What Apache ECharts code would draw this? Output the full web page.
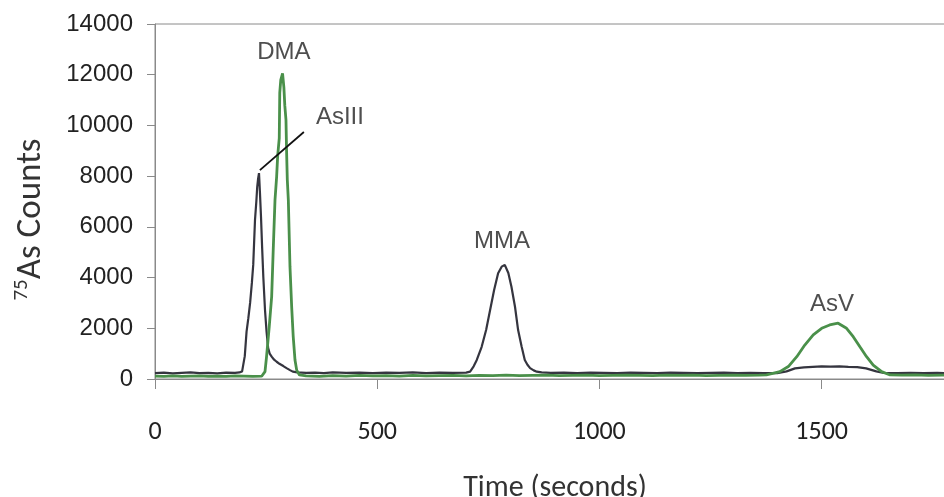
<!DOCTYPE html>
<html>
<head>
<meta charset="utf-8">
<script src="https://cdn.jsdelivr.net/npm/echarts@6/dist/echarts.min.js"></script>
<style>
html,body{margin:0;padding:0;background:#fff}
#main{width:944px;height:497px}
</style>
</head>
<body>
<div id="main"></div>
<script>
// black trace (AsIII, MMA, small bump under AsV)
const blackTime = [0, 20, 40, 60, 80, 100, 120, 140, 160, 180, 190, 196, 202, 206, 210, 214, 218, 221, 225, 228, 230, 232, 234, 236, 238.5, 241, 243.7, 247.5, 251, 254.6, 258, 262.5, 268, 273.7, 280, 288.7, 296, 303.7, 310, 320, 340, 360, 380, 400, 430, 460, 490, 520, 550, 580, 610, 640, 670, 700, 709, 717, 724, 735, 745, 754, 763, 772, 780, 787, 795, 802, 810, 817, 825, 832, 838, 844, 852, 859, 870, 890, 920, 950, 980, 1010, 1040, 1070, 1100, 1130, 1160, 1190, 1220, 1250, 1280, 1310, 1340, 1370, 1400, 1421, 1440, 1460, 1480, 1500, 1520, 1540, 1560, 1580, 1600, 1623, 1640, 1670, 1700, 1730, 1760, 1800];
const blackCounts = [230, 250, 220, 240, 260, 230, 240, 220, 250, 240, 260, 300, 900, 1870, 2400, 3000, 3800, 4500, 6270, 7000, 7580, 7900, 8120, 7400, 6400, 5200, 4030, 2720, 1870, 1220, 1000, 880, 760, 680, 600, 510, 430, 350, 290, 260, 240, 250, 230, 260, 240, 250, 230, 250, 240, 260, 230, 250, 240, 250, 290, 500, 750, 1270, 1930, 2720, 3510, 4170, 4430, 4500, 4180, 3640, 2850, 1930, 1270, 750, 560, 430, 340, 290, 260, 240, 250, 230, 250, 240, 230, 250, 240, 230, 250, 240, 230, 240, 250, 230, 240, 230, 230, 300, 420, 460, 480, 500, 490, 500, 480, 470, 420, 300, 240, 230, 240, 230, 240, 230];

// green trace (DMA, AsV)
const greenTime = [0, 20, 40, 60, 80, 100, 120, 140, 160, 180, 200, 220, 240, 247.5, 251, 257, 262.5, 266, 270, 273.7, 276, 279.6, 280.7, 283, 287, 290, 292, 294.7, 296, 297.7, 300, 303.7, 307.5, 311, 315, 318.8, 325, 340, 370, 400, 430, 460, 490, 520, 550, 580, 610, 640, 670, 700, 730, 760, 790, 820, 850, 880, 910, 940, 970, 1000, 1030, 1060, 1090, 1120, 1150, 1180, 1210, 1240, 1270, 1300, 1330, 1360, 1376, 1406, 1425, 1444, 1462, 1481, 1500, 1518, 1537, 1556, 1571, 1586, 1601, 1616, 1635, 1654, 1680, 1710, 1740, 1770, 1800];
const greenCounts = [110, 100, 120, 100, 110, 120, 100, 110, 100, 120, 110, 100, 110, 290, 880, 2060, 3250, 5090, 7060, 7980, 8800, 9500, 11280, 11800, 12050, 11500, 10800, 10215, 9030, 7850, 7060, 4430, 2850, 1670, 750, 350, 160, 120, 100, 130, 110, 140, 120, 130, 110, 140, 120, 130, 140, 120, 140, 130, 150, 130, 140, 150, 130, 140, 150, 130, 140, 150, 140, 130, 150, 140, 150, 130, 140, 150, 140, 150, 160, 290, 490, 880, 1340, 1740, 2000, 2130, 2200, 2000, 1670, 1270, 880, 550, 290, 160, 150, 160, 140, 150, 150];

// peak annotations
const peakNames = ['DMA', 'AsIII', 'MMA', 'AsV'];
const peakTime = [290, 416, 781, 1523];
const peakCounts = [12900, 10330, 5440, 2960];

// leader line from AsIII label to its peak
const leaderTime = [236, 335];
const leaderCounts = [8240, 9740];

const xTicks = [0, 500, 1000, 1500];

const zip = (a, b) => a.map((v, i) => [v, b[i]]);

const chart = echarts.init(document.getElementById('main'), null, {renderer: 'canvas'});

const option = {
  animation: false,
  backgroundColor: '#fff',
  grid: {
    left: 155,
    top: 24,
    bottom: 118,
    right: -11,
    containLabel: false,
    outerBoundsMode: 'none',
    show: true,
    borderColor: '#8a8a8a',
    borderWidth: 1
  },
  xAxis: {
    type: 'value',
    min: 0,
    max: 1800,
    interval: 500,
    name: 'Time (seconds)',
    nameLocation: 'middle',
    nameGap: 94,
    nameTextStyle: {fontFamily: 'Carlito, "Open Sans"', fontSize: 30, color: '#333'},
    axisLine: {show: true, lineStyle: {color: '#8a8a8a', width: 1}},
    axisTick: {show: true, length: 10, lineStyle: {color: '#8a8a8a'}},
    splitLine: {show: false},
    axisLabel: {
      margin: 40,
      fontFamily: 'Carlito, "Open Sans"',
      fontSize: 26,
      color: '#222',
      showMaxLabel: false,
      formatter: v => xTicks.indexOf(v) >= 0 ? String(v) : ''
    }
  },
  yAxis: {
    type: 'value',
    min: 0,
    max: 14000,
    interval: 2000,
    name: '{sup|75}{main|As Counts}',
    nameLocation: 'middle',
    nameGap: 104,
    nameTextStyle: {
      padding: [0, 36, 0, 0],
      rich: {
        sup: {fontFamily: 'Carlito, "Open Sans"', fontSize: 21, color: '#333', verticalAlign: 'top', lineHeight: 20},
        main: {fontFamily: 'Carlito, "Open Sans"', fontSize: 35, color: '#333', lineHeight: 40}
      }
    },
    axisLine: {show: true, lineStyle: {color: '#8a8a8a', width: 1}},
    axisTick: {show: true, length: 8, lineStyle: {color: '#8a8a8a'}},
    splitLine: {show: false},
    axisLabel: {
      margin: 22,
      fontFamily: '"Liberation Sans", Arial',
      fontSize: 24,
      color: '#222',
      formatter: v => String(v)
    }
  },
  series: [
    {
      name: 'black',
      type: 'line',
      data: zip(blackTime, blackCounts),
      showSymbol: false,
      symbol: 'none',
      lineStyle: {color: '#35353f', width: 2.2},
      z: 2
    },
    {
      name: 'green',
      type: 'line',
      data: zip(greenTime, greenCounts),
      showSymbol: false,
      symbol: 'none',
      lineStyle: {color: '#4a904a', width: 2.8},
      z: 3
    },
    {
      name: 'leader',
      type: 'line',
      data: zip(leaderTime, leaderCounts),
      showSymbol: false,
      symbol: 'none',
      lineStyle: {color: '#111', width: 1.8},
      z: 4
    },
    {
      name: 'labels',
      type: 'scatter',
      symbolSize: 0,
      silent: true,
      data: peakNames.map((n, i) => ({name: n, value: [peakTime[i], peakCounts[i]]})),
      label: {
        show: true,
        position: 'inside',
        formatter: '{b}',
        fontFamily: '"Liberation Sans", Arial',
        fontSize: 24,
        color: '#222'
      },
      z: 5
    }
  ]
};

chart.setOption(option);
</script>
</body>
</html>
